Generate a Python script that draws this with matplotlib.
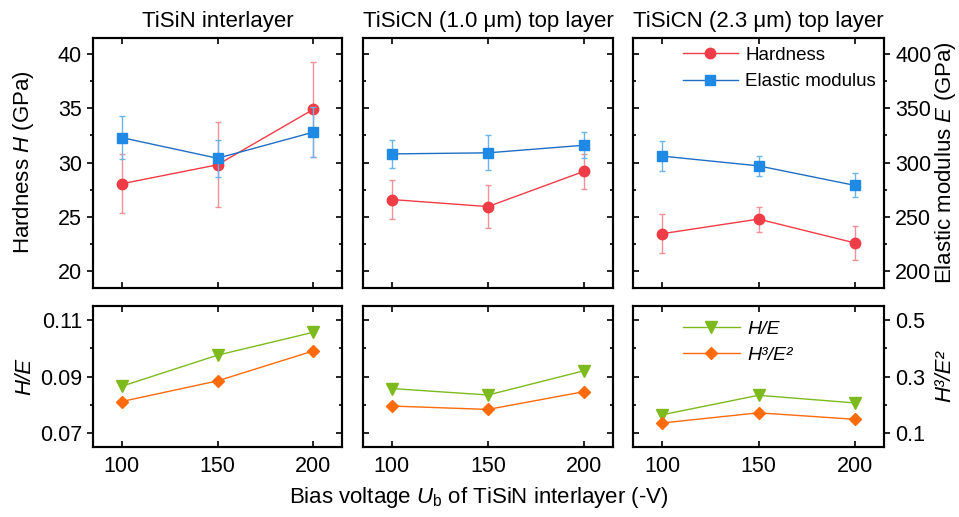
import numpy as np
import matplotlib
matplotlib.use("Agg")
import matplotlib.pyplot as plt
from matplotlib.ticker import MultipleLocator, FixedLocator

plt.rcParams['font.family'] = ['Liberation Sans', 'DejaVu Sans']
plt.rcParams['mathtext.fontset'] = 'custom'
plt.rcParams['mathtext.rm'] = 'Liberation Sans'
plt.rcParams['mathtext.it'] = 'Liberation Sans:italic'
plt.rcParams['axes.linewidth'] = 1.5

bias = [100, 150, 200]
titles = ['TiSiN interlayer', 'TiSiCN (1.0 μm) top layer', 'TiSiCN (2.3 μm) top layer']

# hardness H (GPa) and elastic modulus E (GPa), one row per panel
hardness = [[28.05, 29.8, 34.9], [26.6, 25.95, 29.2], [23.45, 24.8, 22.6]]
hardness_err = [[2.7, 3.9, 4.4], [1.8, 2.0, 1.6], [1.8, 1.15, 1.55]]
modulus = [[323, 304, 328], [308, 309, 316], [306, 297, 279]]
modulus_err = [[20, 17, 23], [13, 16, 12], [14, 9, 11]]

# H/E and H^3/E^2 ratios
h_over_e = [[0.0866, 0.0976, 0.1057], [0.0858, 0.0835, 0.0921], [0.0765, 0.0834, 0.0807]]
h3_over_e2 = [[0.212, 0.285, 0.391], [0.196, 0.184, 0.247], [0.136, 0.172, 0.149]]

he_ticks = [0.07, 0.09, 0.11]
h3e2_ticks = [0.1, 0.3, 0.5]

red = '#F03C46'
red_light = '#F59096'
blue = '#1E8AE6'
blue_line = '#1F6EC4'
blue_light = '#6AB4F0'
green = '#7DBA1E'
orange = '#FF6A0A'

W, H = 959, 517
fig = plt.figure(figsize=(W / 100, H / 100), dpi=100)

col_x = [(93, 342), (363, 613), (633, 884)]
top_y = (37.7, 287.5)
bot_y = (306.0, 447.3)


def box(xs, ys):
    return [xs[0] / W, 1 - ys[1] / H, (xs[1] - xs[0]) / W, (ys[1] - ys[0]) / H]


tick_fs = 15.5
leg_kw = dict(loc='upper left', frameon=False, handlelength=2.9,
              handletextpad=0.4, borderpad=0, borderaxespad=0)

for i in range(3):
    first, last = i == 0, i == 2

    # top row: hardness (left) and modulus (right)
    ax = fig.add_axes(box(col_x[i], top_y))
    tw = ax.twinx()
    eh = ax.errorbar(bias, hardness[i], yerr=hardness_err[i], color=red, ecolor=red_light,
                     marker='o', ms=7.5, lw=1, elinewidth=1, capsize=2, capthick=1)
    ee = tw.errorbar(bias, modulus[i], yerr=modulus_err[i], color=blue_line, mfc=blue, mec=blue,
                     ecolor=blue_light, marker='s', ms=7, lw=1, elinewidth=1, capsize=2,
                     capthick=1)
    ax.set_xlim(85, 215)
    ax.set_ylim(18.5, 41.5)
    tw.set_ylim(185, 415)
    ax.set_xticks(bias)
    ax.yaxis.set_major_locator(MultipleLocator(5))
    ax.yaxis.set_minor_locator(MultipleLocator(2.5))
    tw.yaxis.set_major_locator(MultipleLocator(50))
    tw.yaxis.set_minor_locator(MultipleLocator(25))
    ax.tick_params(axis='x', direction='in', top=True, labelbottom=False, length=4, width=1.2)
    ax.tick_params(axis='y', which='both', direction='out' if first else 'in',
                   labelleft=first, labelsize=tick_fs, width=1.2)
    tw.tick_params(axis='y', which='both', direction='out' if last else 'in',
                   labelright=last, labelsize=tick_fs, width=1.2)
    for a in (ax, tw):
        a.tick_params(which='major', length=4.5)
        a.tick_params(which='minor', length=2.5)
    ax.set_title(titles[i], fontsize=16, pad=8)
    if last:
        tw.legend([eh[0], ee[0]], ['Hardness', 'Elastic modulus'],
                  bbox_to_anchor=(0.2, 0.965), labelspacing=0.5, fontsize=13.5, **leg_kw)

    # bottom row: H/E (left) and H^3/E^2 (right)
    bx = fig.add_axes(box(col_x[i], bot_y))
    bt = bx.twinx()
    lh, = bx.plot(bias, h_over_e[i], color=green, marker='v', ms=8, lw=1)
    lc, = bt.plot(bias, h3_over_e2[i], color=orange, marker='D', ms=6.5, lw=1)
    bx.set_xlim(85, 215)
    bx.set_ylim(0.065, 0.115)
    bt.set_ylim(0.05, 0.55)
    bx.set_xticks(bias)
    bx.yaxis.set_major_locator(FixedLocator(he_ticks))
    bx.yaxis.set_minor_locator(FixedLocator([0.08, 0.10]))
    bt.yaxis.set_major_locator(FixedLocator(h3e2_ticks))
    bt.yaxis.set_minor_locator(FixedLocator([0.2, 0.4]))
    bx.tick_params(axis='x', direction='in', top=True, labelsize=tick_fs, length=4,
                   width=1.2, pad=6)
    bx.tick_params(axis='y', which='both', direction='out' if first else 'in',
                   labelleft=first, labelsize=tick_fs, width=1.2)
    bt.tick_params(axis='y', which='both', direction='out' if last else 'in',
                   labelright=last, labelsize=tick_fs, width=1.2)
    for a in (bx, bt):
        a.tick_params(which='major', length=4.5)
        a.tick_params(which='minor', length=2.5)
    if last:
        bt.legend([lh, lc], ['H/E', 'H³/E²'], bbox_to_anchor=(0.2, 0.9),
                  labelspacing=0.45, prop={'size': 14, 'style': 'italic'}, **leg_kw)

fig.text(24 / W, 1 - 162.5 / H, 'Hardness $H$ (GPa)', rotation=90, ha='center', va='center',
         fontsize=16)
fig.text(945 / W, 1 - 162.5 / H, 'Elastic modulus $E$ (GPa)', rotation=90, ha='center',
         va='center', fontsize=16)
fig.text(25 / W, 1 - 376.5 / H, 'H/E', rotation=90, ha='center', va='center', fontsize=16,
         style='italic')
fig.text(945 / W, 1 - 376.5 / H, 'H³/E²', rotation=90, ha='center', va='center',
         fontsize=16, style='italic')
fig.text(479 / W, 1 - 497 / H, 'Bias voltage $U_\\mathrm{b}$ of TiSiN interlayer (-V)',
         ha='center', va='center', fontsize=16)

fig.savefig('out.png', dpi=100)
